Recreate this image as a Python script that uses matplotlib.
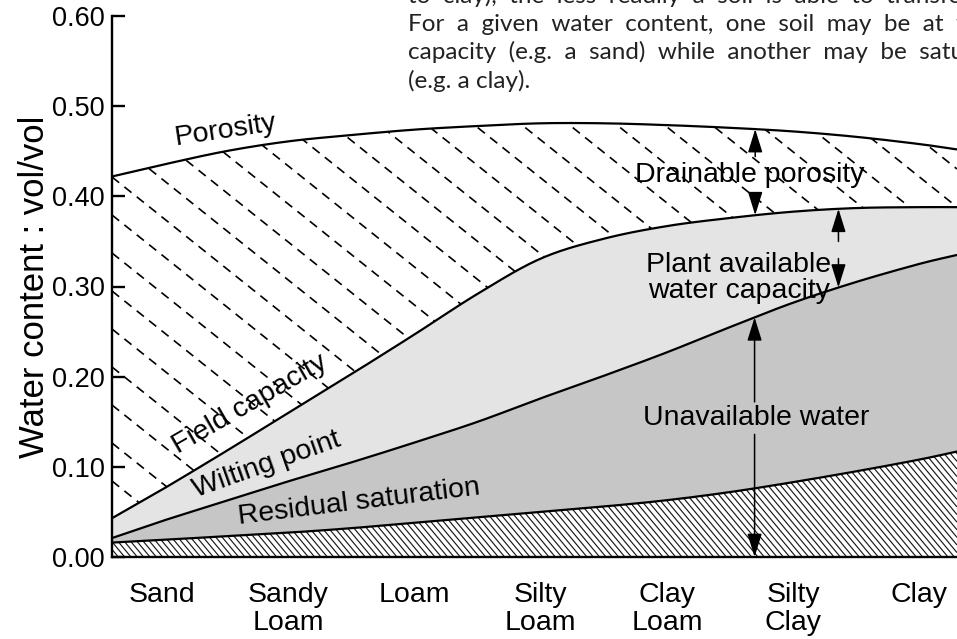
import numpy as np
import matplotlib
matplotlib.use('Agg')
import matplotlib.pyplot as plt
from matplotlib.collections import LineCollection

plt.rcParams['font.family'] = ['Liberation Sans', 'DejaVu Sans']

# ---------------- data ----------------
categories = ['Sand', 'Sandy\nLoam', 'Loam', 'Silty\nLoam', 'Clay\nLoam', 'Silty\nClay', 'Clay']
x_read = [-0.4, 0.0, 0.5, 1.0, 1.5, 2.0, 2.5, 3.0, 3.5, 4.0, 4.5, 5.0, 5.5, 6.0, 6.3]
porosity = [0.422, 0.435, 0.450, 0.461, 0.468, 0.474, 0.478, 0.481, 0.481, 0.479,
            0.476, 0.472, 0.466, 0.458, 0.452]
field_capacity = [0.043, 0.075, 0.117, 0.160, 0.203, 0.247, 0.292, 0.331, 0.353, 0.367,
                  0.376, 0.383, 0.387, 0.388, 0.388]
wilting_point = [0.021, 0.040, 0.062, 0.084, 0.105, 0.127, 0.150, 0.176, 0.201, 0.227,
                 0.255, 0.282, 0.305, 0.325, 0.335]
residual_saturation = [0.016, 0.019, 0.023, 0.027, 0.032, 0.038, 0.044, 0.050, 0.056, 0.063,
                       0.072, 0.083, 0.095, 0.108, 0.117]
yticks = [0.00, 0.10, 0.20, 0.30, 0.40, 0.50, 0.60]
ylabel = 'Water content : vol/vol'
caption_lines = [
    'to clay), the less readily a soil is able to transfer water',
    'For a given water content, one soil may be at field',
    'capacity (e.g. a sand) while another may be saturated',
    '(e.g. a clay).',
]


def smooth(xs, ys, n=16):
    """Catmull-Rom rendering of a curve through the read points."""
    p = np.column_stack([xs, ys]).astype(float)
    p = np.vstack([2 * p[0] - p[1], p, 2 * p[-1] - p[-2]])
    out = []
    for i in range(1, len(p) - 2):
        p0, p1, p2, p3 = p[i - 1], p[i], p[i + 1], p[i + 2]
        t = np.linspace(0, 1, n, endpoint=False)[:, None]
        seg = 0.5 * ((2 * p1) + (-p0 + p2) * t + (2 * p0 - 5 * p1 + 4 * p2 - p3) * t ** 2
                     + (-p0 + 3 * p1 - 3 * p2 + p3) * t ** 3)
        out.append(seg)
    out.append(p[-2][None, :])
    out = np.vstack(out)
    return out[:, 0], out[:, 1]


# ---------------- figure ----------------
W_PX, H_PX = 957, 639
fig = plt.figure(figsize=(W_PX / 100, H_PX / 100), dpi=100)
ax_left, ax_right, ax_bottom, ax_top = 112, 957, 557, 16
ax = fig.add_axes([ax_left / W_PX, 1 - ax_bottom / H_PX,
                   (ax_right - ax_left) / W_PX, (ax_bottom - ax_top) / H_PX])
AX_W = ax_right - ax_left
AX_H = ax_bottom - ax_top

xs, P = smooth(x_read, porosity)
_, FC = smooth(x_read, field_capacity)
_, WP = smooth(x_read, wilting_point)
_, RS = smooth(x_read, residual_saturation)

# fills
drain = ax.fill_between(xs, FC, P, facecolor='white', edgecolor='none', zorder=1)
ax.fill_between(xs, WP, FC, facecolor='#e4e4e4', edgecolor='none', zorder=1)
ax.fill_between(xs, RS, WP, facecolor='#c6c6c6', edgecolor='none', zorder=1)
resid = ax.fill_between(xs, 0, RS, facecolor='white', edgecolor='none', zorder=1)


def hatch(coll, slope, spacing, **kw):
    """Diagonal decorative lines (pixel slope, vertical spacing in px) clipped to a fill."""
    cs = np.arange(0, AX_H + slope * AX_W + spacing, spacing)
    segs = [[(0, c / AX_H), (1, (c - slope * AX_W) / AX_H)] for c in cs]
    lc = LineCollection(segs, transform=ax.transAxes, zorder=2, **kw)
    ax.add_collection(lc, autolim=False)
    lc.set_clip_path(coll.get_paths()[0], ax.transData)


hatch(drain, 0.8, 38, colors='black', linewidths=1.2, linestyles=[(0, (5.5, 4.0))])
hatch(resid, 1.2, 7.6, colors='#1a1a1a', linewidths=0.85)

# curves
for yv in (P, FC, WP, RS):
    ax.plot(xs, yv, color='black', lw=1.6, zorder=3, solid_capstyle='butt')

ax.set_xlim(x_read[0], x_read[-1])
ax.set_ylim(0, 0.6)

# axes styling
for s in ('top', 'right'):
    ax.spines[s].set_visible(False)
for s in ('left', 'bottom'):
    ax.spines[s].set_linewidth(1.7)
    ax.spines[s].set_zorder(5)
ax.set_yticks(yticks)
ax.set_yticklabels([f'{v:.2f}' for v in yticks], fontsize=19.5)
ax.tick_params(axis='y', direction='in', length=9.5, width=1.7, pad=5)
ax.set_xticks(range(len(categories)))
ax.set_xticklabels(categories, fontsize=20.5, linespacing=1.1)
ax.tick_params(axis='x', length=0, pad=18)
ax.set_ylabel(ylabel, fontsize=25, labelpad=1)

# curve labels
lab = dict(fontsize=20.5, ha='center', va='center', rotation_mode='anchor', zorder=6)
ax.text(0.50, 0.473, 'Porosity', rotation=8.5, **lab)
ax.text(0.69, 0.170, 'Field capacity', rotation=30, **lab)
ax.text(0.83, 0.102, 'Wilting point', rotation=19.5, **lab)
ax.text(1.56, 0.061, 'Residual saturation', rotation=7, **lab)

# annotations with arrows
ap = dict(arrowstyle='-|>,head_length=0.9,head_width=0.28', color='black', lw=1.1,
          shrinkA=0, shrinkB=0, mutation_scale=16)
xd = 4.70
ax.text(4.66, 0.4235, 'Drainable porosity', fontsize=20.5, ha='center', va='center', zorder=6)
ax.annotate('', xy=(xd, np.interp(xd, xs, P)), xytext=(xd, 0.444), arrowprops=ap, zorder=6)
ax.annotate('', xy=(xd, np.interp(xd, xs, FC)), xytext=(xd, 0.404), arrowprops=ap, zorder=6)

xp = 5.36
ax.text(4.57, 0.309, 'Plant available\nwater capacity', fontsize=20.5, ha='center',
        va='center', linespacing=1.0, zorder=6)
ax.annotate('', xy=(xp, np.interp(xp, xs, FC)), xytext=(xp, 0.350), arrowprops=ap, zorder=6)
ax.annotate('', xy=(xp, np.interp(xp, xs, WP)), xytext=(xp, 0.331), arrowprops=ap, zorder=6)

xu = 4.695
ax.text(4.71, 0.154, 'Unavailable water', fontsize=20.5, ha='center', va='center', zorder=6)
ax.annotate('', xy=(xu, np.interp(xu, xs, WP)), xytext=(xu, 0.172), arrowprops=ap, zorder=6)
ax.annotate('', xy=(xu, 0.0), xytext=(xu, 0.136), arrowprops=ap, zorder=6)

# caption fragment (top right), justified lines cut off by the picture edge as in the reference
baselines = [3, 31, 59, 88]
for k, (t, b) in enumerate(zip(caption_lines, baselines)):
    shown = t if k == len(caption_lines) - 1 else t.replace(' ', '  ')
    fig.text(408 / W_PX, 1 - b / H_PX, shown, fontsize=17.5, family=['Lato', 'DejaVu Sans'],
             ha='left', va='baseline', color='#222222')

fig.savefig('out.png', dpi=100)
